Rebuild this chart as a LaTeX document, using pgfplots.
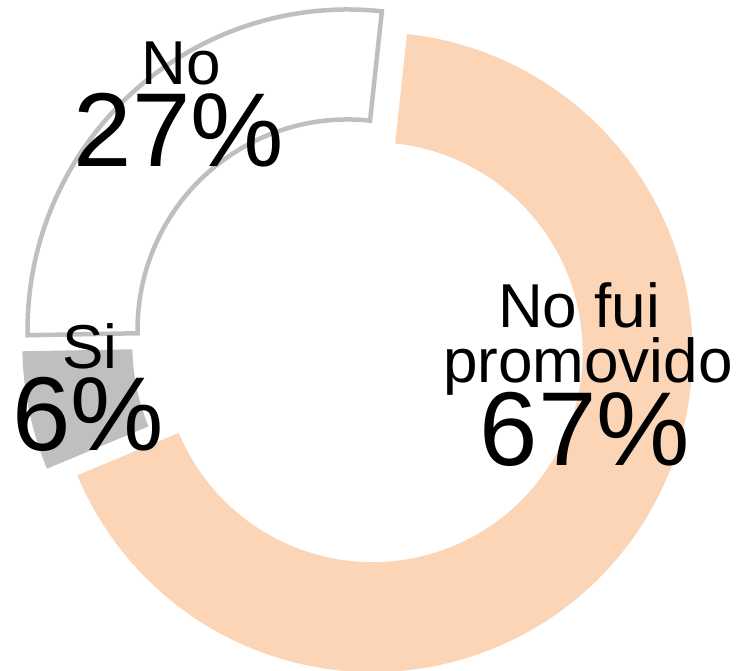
\documentclass[border=0pt]{standalone}
\usepackage{fontspec}
\setmainfont{Liberation Sans}
\usepackage{pgfplots}
\pgfplotsset{compat=1.18}
\usepgfplotslibrary{fillbetween}
\definecolor{peach}{HTML}{FBD5B5}
\definecolor{greyfill}{HTML}{BFBFBF}
\definecolor{greyline}{HTML}{BFBFBF}

% data (percent), clockwise from the start angle
\def\ValNoFui{67}
\def\ValSi{6}
\def\ValNo{27}
% geometry (picture units = px)
\def\cx{359}\def\cy{329}\def\Ro{320}\def\Ri{210}\def\ex{17}
\def\startang{83.84}
\pgfmathsetmacro\aA{\startang}
\pgfmathsetmacro\bA{\aA-3.6*\ValNoFui}
\pgfmathsetmacro\bB{\bA-3.6*\ValSi}
\pgfmathsetmacro\bC{\bB-3.6*\ValNo}
\pgfmathsetmacro\oAx{\cx+\ex*cos((\aA+\bA)/2)}
\pgfmathsetmacro\oAy{\cy+\ex*sin((\aA+\bA)/2)}
\pgfmathsetmacro\oBx{\cx+\ex*cos((\bA+\bB)/2)}
\pgfmathsetmacro\oBy{\cy+\ex*sin((\bA+\bB)/2)}
\pgfmathsetmacro\oCx{\cx+\ex*cos((\bB+\bC)/2)}
\pgfmathsetmacro\oCy{\cy+\ex*sin((\bB+\bC)/2)}

\begin{document}
\begin{tikzpicture}
\begin{axis}[
  scale only axis, width=736pt, height=671pt,
  xmin=0, xmax=736, ymin=0, ymax=671,
  hide axis, samples=120, variable=\t,
]
% No fui promovido
\addplot[draw=none, name path=Ao, domain=\bA:\aA] ({\oAx+\Ro*cos(\t)},{\oAy+\Ro*sin(\t)});
\addplot[draw=none, name path=Ai, domain=\bA:\aA] ({\oAx+\Ri*cos(\t)},{\oAy+\Ri*sin(\t)});
\addplot[fill=peach, draw=none] fill between[of=Ao and Ai];
% Si
\addplot[draw=none, name path=Bo, domain=\bB:\bA, samples=30] ({\oBx+\Ro*cos(\t)},{\oBy+\Ro*sin(\t)});
\addplot[draw=none, name path=Bi, domain=\bB:\bA, samples=30] ({\oBx+\Ri*cos(\t)},{\oBy+\Ri*sin(\t)});
\addplot[fill=greyfill, draw=none] fill between[of=Bo and Bi];
% No
\addplot[draw=none, name path=Co, domain=\bC:\bB, samples=60] ({\oCx+\Ro*cos(\t)},{\oCy+\Ro*sin(\t)});
\addplot[draw=none, name path=Ci, domain=\bC:\bB, samples=60] ({\oCx+\Ri*cos(\t)},{\oCy+\Ri*sin(\t)});
\addplot[fill=white, draw=greyline, line width=4.5pt, line join=miter] fill between[of=Co and Ci];

% labels
\node[anchor=base, font=\fontsize{62}{62}\selectfont] at (axis cs:181,586) {No};
\node[anchor=base, font=\fontsize{105}{105}\selectfont] at (axis cs:179,504) {27\%};
\node[anchor=base, font=\fontsize{62}{62}\selectfont] at (axis cs:90,302) {Si};
\node[anchor=base, font=\fontsize{105}{105}\selectfont] at (axis cs:88,220) {6\%};
\node[anchor=base, font=\fontsize{62}{62}\selectfont] at (axis cs:579,343) {No fui};
\node[anchor=base, font=\fontsize{62}{62}\selectfont] at (axis cs:588,288) {promovido};
\node[anchor=base, font=\fontsize{105}{105}\selectfont] at (axis cs:585,205) {67\%};
\end{axis}
\end{tikzpicture}
\end{document}
